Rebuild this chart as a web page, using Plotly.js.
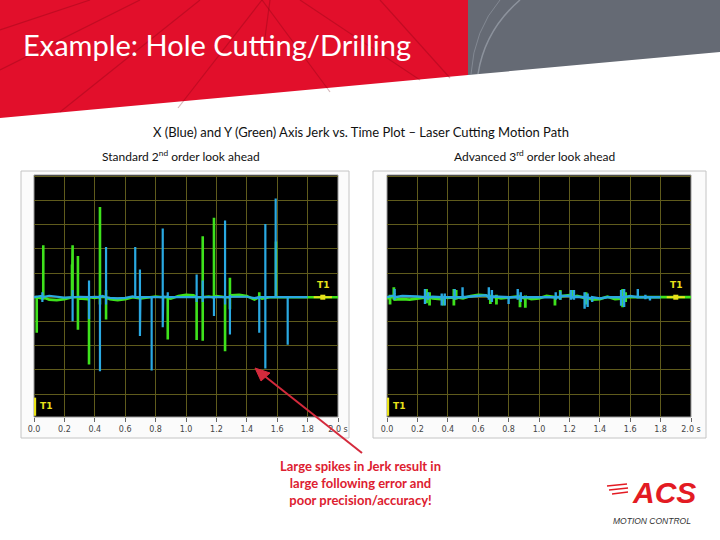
<!DOCTYPE html>
<html><head><meta charset="utf-8">
<script src="https://cdn.plot.ly/plotly-3.0.1.min.js"></script>
<style>html,body{margin:0;padding:0;background:#fff}#chart{width:720px;height:540px}</style>
</head><body><div id="chart"></div>
<script>
// ---------- data ----------
const tickValues = [0, 0.2, 0.4, 0.6, 0.8, 1.0, 1.2, 1.4, 1.6, 1.8, 2.0];
const tickLabels = ['0.0', '0.2', '0.4', '0.6', '0.8', '1.0', '1.2', '1.4', '1.6', '1.8', '2.0 s'];

// baseline sample times (s)
const baseT = [0, 0.05, 0.1, 0.15, 0.2, 0.25, 0.3, 0.35, 0.4, 0.45, 0.5, 0.55, 0.6, 0.65, 0.7, 0.75, 0.8, 0.85, 0.9, 0.95, 1.0, 1.05, 1.1, 1.15, 1.2, 1.25, 1.3, 1.35, 1.4, 1.45, 1.5, 1.55, 1.6, 1.7, 1.8, 1.9, 2.0];

// Standard 2nd order look ahead – Y axis (green)
const stdGreenBase = [0, -0.05, -0.1, -0.12, -0.08, 0, -0.05, -0.08, -0.03, 0.02, -0.08, -0.12, -0.08, 0, -0.05, 0, 0.03, 0, -0.06, 0.05, 0.1, 0.08, 0, 0.03, 0.05, 0.02, 0.08, 0.1, 0.05, -0.1, -0.06, 0, 0, 0, 0, 0, 0];
const stdGreenSpikeT = [0.018, 0.061, 0.25, 0.254, 0.289, 0.362, 0.434, 0.474, 0.88, 1.07, 1.11, 1.184, 1.257, 1.289, 1.482, 1.592];
const stdGreenSpikeUp = [0, 2.15, 1.35, 2.15, 1.7, 0, 3.73, 0.3, 0, 0, 2.52, 3.28, 0, 0.8, 0.2, 2.3];
const stdGreenSpikeDown = [-1.47, -0.1, 0, 0, -1.34, -2.78, -0.3, -0.92, -1.75, -1.77, -1.8, 0, -2.23, -0.5, 0, 0];

// Standard 2nd order look ahead – X axis (blue)
const stdBlueBase = [0, 0.05, 0.06, 0.02, -0.02, 0, 0.02, 0, 0.02, 0.05, -0.03, -0.05, -0.03, 0.03, 0, 0, 0, 0.03, 0, 0, 0.02, 0.03, 0, 0, 0, 0, 0.02, 0.02, 0.02, -0.04, 0, 0, 0, 0, 0, 0, 0];
const stdBlueSpikeT = [0.055, 0.254, 0.362, 0.434, 0.474, 0.666, 0.697, 0.774, 0.847, 0.88, 1.07, 1.11, 1.184, 1.257, 1.289, 1.482, 1.522, 1.59, 1.669];
const stdBlueSpikeUp = [0.2, 0.3, 0.69, 0.1, 2.07, 2.07, 1.14, 0, 2.84, 0.2, 0.94, 0.69, 0, 3.17, 0.1, 0, 3.03, 4.08, 0];
const stdBlueSpikeDown = [-0.2, -0.99, -0.9, -3.06, -0.3, 0, -1.6, -3.03, -1.24, 0, -0.2, -0.2, -0.78, -0.3, -1.54, -1.47, -2.95, 0, -1.96];

// Advanced 3rd order look ahead – Y axis (green)
const advGreenBase = [-0.05, -0.1, -0.08, -0.1, -0.05, 0, -0.05, -0.08, -0.03, 0, -0.05, 0.05, 0.1, 0.08, 0, -0.05, 0, 0.02, -0.03, -0.08, -0.05, 0.05, 0.03, 0.05, 0.08, 0.05, -0.03, -0.1, -0.08, 0.02, -0.08, -0.05, 0, 0, 0, 0, 0];
const advGreenSpikeT = [0.02, 0.045, 0.26, 0.28, 0.37, 0.44, 0.455, 0.68, 0.72, 0.875, 0.91, 1.105, 1.14, 1.22, 1.31, 1.55, 1.57];
const advGreenSpikeUp = [0.1, 0.41, 0.34, 0.2, 0.05, 0.34, 0.3, 0.1, 0.1, 0.1, 0, 0.05, 0.3, 0.3, 0.2, 0.34, 0.2];
const advGreenSpikeDown = [-0.3, -0.1, -0.25, -0.34, -0.34, -0.34, -0.1, -0.28, -0.3, -0.41, -0.44, -0.34, -0.1, -0.05, -0.3, -0.41, -0.2];

// Advanced 3rd order look ahead – X axis (blue)
const advBlueBase = [0, 0.08, 0.05, 0.05, 0.03, 0, 0.02, 0, 0, 0, 0, 0.03, 0.05, 0.08, 0.03, 0, 0, 0, 0, 0, 0, 0, 0, 0.05, 0.05, 0.02, 0, -0.05, -0.05, 0, 0, 0, 0.05, 0, 0, 0, 0];
const advBlueSpikeT = [0.05, 0.25, 0.27, 0.36, 0.38, 0.445, 0.497, 0.67, 0.69, 0.80, 0.86, 0.88, 1.11, 1.14, 1.21, 1.23, 1.30, 1.32, 1.35, 1.54, 1.56, 1.65, 1.70, 1.73];
const advBlueSpikeUp = [0.34, 0.34, 0.2, 0.15, 0.15, 0.34, 0.41, 0.41, 0.3, 0, 0.34, 0.2, 0.2, 0.25, 0.3, 0.3, 0.2, 0.15, 0, 0.3, 0.34, 0.34, 0.1, 0];
const advBlueSpikeDown = [-0.1, -0.28, -0.1, -0.34, -0.34, -0.1, -0.05, -0.1, -0.2, -0.28, -0.1, -0.2, -0.1, -0.1, -0.1, -0.1, -0.48, -0.4, -0.2, -0.35, -0.4, -0.05, -0.08, -0.14];

const blueEndT = 1.86;   // X trace ends at the T1 cursor
const cursorT = 1.9;

// ---------- helpers ----------
function buildSeries(bT, bV, sT, sUp, sDown, tMax) {
  const pts = [];
  bT.forEach((t, i) => { if (t <= tMax) pts.push({t: t, v: bV[i], o: 0}); });
  sT.forEach((t, i) => {
    pts.push({t: t, v: 0, o: 1});
    pts.push({t: t, v: sUp[i], o: 2});
    pts.push({t: t, v: sDown[i], o: 3});
    pts.push({t: t, v: 0, o: 4});
  });
  pts.sort((a, b) => (a.t - b.t) || (a.o - b.o));
  return {x: pts.map(p => p.t), y: pts.map(p => p.v)};
}
const W = 720, H = 540;
const px = x => x / W;
const py = y => 1 - y / H;

const GREEN = '#3ee21c', BLUE = '#2aa9e2', YEL = '#e8e21a', ARROW = '#d42a3c';

const sG = buildSeries(baseT, stdGreenBase, stdGreenSpikeT, stdGreenSpikeUp, stdGreenSpikeDown, 2.0);
const sB = buildSeries(baseT, stdBlueBase, stdBlueSpikeT, stdBlueSpikeUp, stdBlueSpikeDown, blueEndT);
const aG = buildSeries(baseT, advGreenBase, advGreenSpikeT, advGreenSpikeUp, advGreenSpikeDown, 2.0);
const aB = buildSeries(baseT, advBlueBase, advBlueSpikeT, advBlueSpikeUp, advBlueSpikeDown, blueEndT);

function line(s, xa, ya, color, w) {
  return {type: 'scatter', mode: 'lines', x: s.x, y: s.y, xaxis: xa, yaxis: ya,
          line: {color: color, width: w}, hoverinfo: 'skip', showlegend: false};
}
function cursorTraces(xa, ya) {
  return [
    {type: 'scatter', mode: 'lines', x: [cursorT - 0.06, cursorT + 0.06], y: [0, 0], xaxis: xa, yaxis: ya,
     line: {color: YEL, width: 2}, showlegend: false, hoverinfo: 'skip'},
    {type: 'scatter', mode: 'markers', x: [cursorT], y: [0], xaxis: xa, yaxis: ya,
     marker: {color: YEL, size: 5, symbol: 'square'}, showlegend: false, hoverinfo: 'skip'},
    {type: 'scatter', mode: 'lines', x: [0.006, 0.006], y: [-4.15, -4.9], xaxis: xa, yaxis: ya,
     line: {color: YEL, width: 2.5}, showlegend: false, hoverinfo: 'skip'}
  ];
}

const data = [
  line(sG, 'x', 'y', GREEN, 2.6), line(sB, 'x', 'y', BLUE, 2.2),
  line(aG, 'x2', 'y2', GREEN, 2.8), line(aB, 'x2', 'y2', BLUE, 2.4),
  ...cursorTraces('x', 'y'), ...cursorTraces('x2', 'y2')
];

const xCommon = {range: [0, 2], tickvals: tickValues, ticktext: tickLabels, showgrid: true,
  gridcolor: '#5f5b1c', gridwidth: 1, zeroline: false, ticks: 'outside', ticklen: 4, tickcolor: '#666',
  tickfont: {family: 'DejaVu Sans', size: 8, color: '#444'}, showline: false, fixedrange: true};
const yCommon = {range: [-4.95, 5.05], tick0: 0, dtick: 1, showgrid: true, gridcolor: '#5f5b1c',
  gridwidth: 1, zeroline: false, showticklabels: false, ticks: '', showline: false, fixedrange: true};
const yDom = [py(417), py(175)];

const shapes = [
  // banner red
  {type: 'path', xref: 'paper', yref: 'paper', layer: 'below', fillcolor: '#e20f2b', line: {width: 0},
   path: `M ${px(0)} ${py(0)} L ${px(468)} ${py(0)} L ${px(468)} ${py(75)} L ${px(0)} ${py(118)} Z`},
  // banner gray
  {type: 'path', xref: 'paper', yref: 'paper', layer: 'below', fillcolor: '#656a74', line: {width: 0},
   path: `M ${px(468)} ${py(0)} L ${px(720)} ${py(0)} L ${px(720)} ${py(52)} L ${px(468)} ${py(75)} Z`},
  // panels
  {type: 'rect', xref: 'paper', yref: 'paper', layer: 'below', x0: px(21), x1: px(349), y0: py(438), y1: py(171),
   fillcolor: '#fbfbfb', line: {color: '#c4c4c4', width: 1}},
  {type: 'rect', xref: 'paper', yref: 'paper', layer: 'below', x0: px(373), x1: px(706), y0: py(438), y1: py(171),
   fillcolor: '#fbfbfb', line: {color: '#c4c4c4', width: 1}},
  // plot backgrounds
  {type: 'rect', xref: 'paper', yref: 'paper', layer: 'below', x0: px(34), x1: px(338), y0: py(417), y1: py(175),
   fillcolor: '#000', line: {color: '#9a9a9a', width: 1}},
  {type: 'rect', xref: 'paper', yref: 'paper', layer: 'below', x0: px(387), x1: px(691), y0: py(417), y1: py(175),
   fillcolor: '#000', line: {color: '#9a9a9a', width: 1}}
];
// banner texture streaks
const streaks = [
  [[262, 0], [178, 108]], [[262, 0], [330, 92]], [[270, 0], [262, 60]], [[140, 0], [0, 70]],
  [[200, 0], [60, 112]], [[300, 0], [420, 80]], [[380, 0], [450, 78]], [[90, 0], [0, 30]]
];
streaks.forEach(s => shapes.push({type: 'line', xref: 'paper', yref: 'paper', layer: 'below',
  x0: px(s[0][0]), y0: py(s[0][1]), x1: px(s[1][0]), y1: py(s[1][1]),
  line: {color: 'rgba(110,0,15,0.28)', width: 1.2}}));
shapes.push({type: 'path', xref: 'paper', yref: 'paper', layer: 'below', line: {color: 'rgba(150,156,166,0.8)', width: 1.5},
  path: `M ${px(520)} ${py(0)} Q ${px(485)} ${py(30)} ${px(478)} ${py(74)}`});
shapes.push({type: 'path', xref: 'paper', yref: 'paper', layer: 'below', line: {color: 'rgba(150,156,166,0.6)', width: 1},
  path: `M ${px(500)} ${py(0)} Q ${px(474)} ${py(30)} ${px(471)} ${py(74)}`});
// callout arrow (shaft + head)
shapes.push({type: 'line', xref: 'paper', yref: 'paper', x0: px(362), y0: py(453), x1: px(262), y1: py(374),
  line: {color: ARROW, width: 2}});
shapes.push({type: 'path', xref: 'paper', yref: 'paper', fillcolor: ARROW, line: {color: ARROW, width: 1},
  path: `M ${px(255)} ${py(368)} L ${px(270)} ${py(373)} L ${px(261)} ${py(381)} Z`});
// ACS logo speed lines
[[607, 627, 486], [609, 628, 490], [612, 628, 494]].forEach(l => shapes.push({type: 'line', xref: 'paper', yref: 'paper',
  x0: px(l[0]), x1: px(l[1]), y0: py(l[2]), y1: py(l[2] - 2), line: {color: '#e31b23', width: 1.5}}));

const annotations = [
  {text: 'Example: Hole Cutting/Drilling', xref: 'paper', yref: 'paper', x: px(21), y: py(44), xanchor: 'left', yanchor: 'middle',
   showarrow: false, font: {family: 'Lato', size: 29, color: '#ffffff'}},
  {text: 'X (Blue) and Y (Green) Axis Jerk vs. Time Plot – Laser Cutting Motion Path', xref: 'paper', yref: 'paper',
   x: px(361), y: py(132), xanchor: 'center', yanchor: 'middle', showarrow: false, font: {family: 'Lato', size: 13, color: '#111'}},
  {text: 'Standard 2<sup>nd</sup> order look ahead', xref: 'paper', yref: 'paper', x: px(100), y: py(156), xanchor: 'left', yanchor: 'middle',
   showarrow: false, font: {family: 'Lato', size: 12, color: '#111'}},
  {text: 'Advanced 3<sup>rd</sup> order look ahead', xref: 'paper', yref: 'paper', x: px(452), y: py(156), xanchor: 'left', yanchor: 'middle',
   showarrow: false, font: {family: 'Lato', size: 12, color: '#111'}},
  {text: '<b>Large spikes in Jerk result in<br>large following error and<br>poor precision/accuracy!</b>', xref: 'paper', yref: 'paper',
   x: px(360), y: py(483), xanchor: 'center', yanchor: 'middle', align: 'center', showarrow: false,
   font: {family: 'Lato', size: 13, color: '#dd2030'}},
  {text: '<b><i>ACS</i></b>', xref: 'paper', yref: 'paper', x: px(664), y: py(492), xanchor: 'center', yanchor: 'middle',
   showarrow: false, font: {family: 'Liberation Sans', size: 30, color: '#e31b23'}},
  {text: '<i>MOTION CONTROL</i>', xref: 'paper', yref: 'paper', x: px(652), y: py(521), xanchor: 'center', yanchor: 'middle',
   showarrow: false, font: {family: 'Liberation Sans', size: 8.5, color: '#333'}},
  // cursor labels
  {text: '<b>T1</b>', xref: 'x', yref: 'y', x: cursorT, y: 0.5, showarrow: false, yanchor: 'middle', font: {family: 'DejaVu Sans', size: 9, color: YEL}},
  {text: '<b>T1</b>', xref: 'x2', yref: 'y2', x: cursorT, y: 0.5, showarrow: false, yanchor: 'middle', font: {family: 'DejaVu Sans', size: 9, color: YEL}},
  {text: '<b>T1</b>', xref: 'x', yref: 'y', x: 0.025, y: -4.5, xanchor: 'left', showarrow: false, yanchor: 'middle', font: {family: 'DejaVu Sans', size: 9, color: YEL}},
  {text: '<b>T1</b>', xref: 'x2', yref: 'y2', x: 0.025, y: -4.5, xanchor: 'left', showarrow: false, yanchor: 'middle', font: {family: 'DejaVu Sans', size: 9, color: YEL}}
];

const layout = {
  width: W, height: H, margin: {l: 0, r: 0, t: 0, b: 0},
  paper_bgcolor: '#ffffff', plot_bgcolor: 'rgba(0,0,0,0)', showlegend: false,
  xaxis: Object.assign({}, xCommon, {domain: [px(34), px(338)], anchor: 'y'}),
  yaxis: Object.assign({}, yCommon, {domain: yDom, anchor: 'x'}),
  xaxis2: Object.assign({}, xCommon, {domain: [px(387), px(691)], anchor: 'y2'}),
  yaxis2: Object.assign({}, yCommon, {domain: yDom, anchor: 'x2'}),
  shapes: shapes, annotations: annotations
};
Plotly.newPlot('chart', data, layout, {staticPlot: true, displayModeBar: false});
</script></body></html>
